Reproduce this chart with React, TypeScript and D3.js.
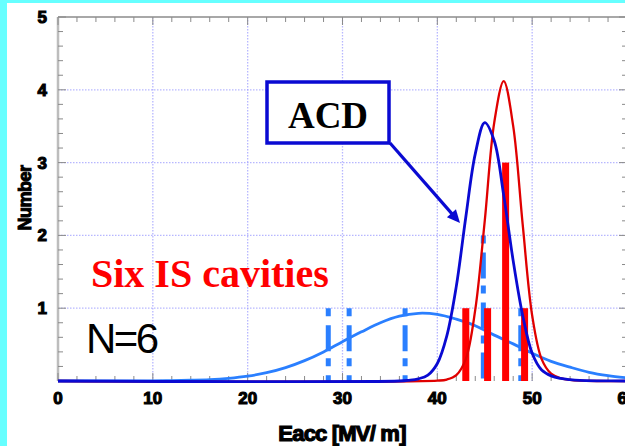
import * as d3 from 'd3';
import React, { useRef, useEffect } from 'react';

const W = 625, H = 446;

// histogram of the six IS cavities (red) and the ACD cavities (dashed blue)
const isEacc = [43.0, 45.3, 47.2, 49.2];
const isCount = [1, 1, 3, 1];
const acdEacc = [28.5, 30.7, 36.6, 44.85, 48.8];
const acdCount = [1, 1, 1, 2, 1];

// fitted curves
const acdFitX = [0, 36, 37, 38, 39, 40, 41, 42, 43, 44, 45, 46, 47, 48, 49, 50, 51, 52, 53, 54, 55, 57, 60];
const acdFitY = [0, 0, 0.01, 0.03, 0.08, 0.24, 0.62, 1.3, 2.25, 3.12, 3.55, 3.3, 2.55, 1.65, 0.9, 0.38, 0.15, 0.07, 0.035, 0.018, 0.008, 0.002, 0];
const isFitX = [0, 40, 41, 42, 43, 44, 45, 46, 47, 48, 49, 50, 51, 52, 53, 54, 55, 57, 60];
const isFitY = [0, 0.005, 0.02, 0.08, 0.3, 0.98, 2.2, 3.55, 4.12, 3.5, 2.15, 0.9, 0.3, 0.1, 0.04, 0.015, 0.005, 0, 0];
const wideFitX = [0, 10, 12, 14, 16, 18, 20, 22, 24, 26, 28, 30, 32, 34, 36, 38, 40, 42, 44, 46, 48, 50, 52, 54, 56, 58, 60];
const wideFitY = [0, 0.002, 0.005, 0.01, 0.018, 0.036, 0.066, 0.114, 0.184, 0.28, 0.4, 0.54, 0.675, 0.8, 0.89, 0.93, 0.915, 0.85, 0.76, 0.63, 0.51, 0.38, 0.27, 0.19, 0.12, 0.074, 0.043];

const xTicks = [0, 10, 20, 30, 40, 50, 60];
const yTicks = [1, 2, 3, 4, 5];
const xMinor = [0, 2, 4, 6, 8, 10, 12, 14, 16, 18, 20, 22, 24, 26, 28, 30, 32, 34, 36, 38, 40, 42, 44, 46, 48, 50, 52, 54, 56, 58, 60];
const yMinor = [0, 0.2, 0.4, 0.6, 0.8, 1, 1.2, 1.4, 1.6, 1.8, 2, 2.2, 2.4, 2.6, 2.8, 3, 3.2, 3.4, 3.6, 3.8, 4, 4.2, 4.4, 4.6, 4.8, 5];

const CYAN = '#66ffff';
const LIGHTBLUE = '#2a7fff';
const DARKBLUE = '#0a0ad2';
const RED = '#ff0000';

export default function App() {
    const ref = useRef<SVGSVGElement>(null);

    useEffect(() => {
        const svg = d3.select(ref.current);
        svg.selectAll('*').remove();

        var x = d3.scaleLinear().domain([0, 60]).range([58, 627]);
        var y = d3.scaleLinear().domain([0, 5]).range([381, 17]);

        // background + cyan frame strips
        svg.append('rect').attr('width', W).attr('height', H).attr('fill', '#fff');
        svg.append('rect').attr('width', 7).attr('height', H).attr('fill', CYAN);
        svg.append('rect').attr('width', W).attr('height', 3).attr('fill', CYAN);

        var g = svg.append('g');

        // dotted grid
        g.selectAll('.gx').data(xTicks.slice(1, -1)).enter().append('line')
            .attr('x1', d => x(d)).attr('x2', d => x(d))
            .attr('y1', y(5)).attr('y2', y(0))
            .attr('stroke', '#9a9aff').attr('stroke-width', 1.3)
            .attr('stroke-dasharray', '1.5,1.5').attr('opacity', 0.7);
        g.selectAll('.gy').data(yTicks.slice(0, -1)).enter().append('line')
            .attr('x1', x(0)).attr('x2', x(60))
            .attr('y1', d => y(d)).attr('y2', d => y(d))
            .attr('stroke', '#9a9aff').attr('stroke-width', 1.3)
            .attr('stroke-dasharray', '1.5,1.5').attr('opacity', 0.7);

        // frame
        g.append('line').attr('x1', x(0)).attr('x2', x(0)).attr('y1', y(5)).attr('y2', y(0))
            .attr('stroke', '#bdbdbd').attr('stroke-width', 2.5);
        g.append('line').attr('x1', x(0)).attr('x2', x(60)).attr('y1', y(5)).attr('y2', y(5))
            .attr('stroke', '#a8a8a8').attr('stroke-width', 2);
        g.append('line').attr('x1', x(60)).attr('x2', x(60)).attr('y1', y(5)).attr('y2', y(0))
            .attr('stroke', '#bdbdbd').attr('stroke-width', 2);

        // minor ticks
        var tickCol = '#8a8a8a';
        g.selectAll('.tb').data(xMinor).enter().append('line')
            .attr('x1', d => x(d)).attr('x2', d => x(d))
            .attr('y1', y(0)).attr('y2', d => y(0) - (d % 10 === 0 ? 8 : 5))
            .attr('stroke', tickCol).attr('stroke-width', 1);
        g.selectAll('.tt').data(xMinor).enter().append('line')
            .attr('x1', d => x(d)).attr('x2', d => x(d))
            .attr('y1', y(5)).attr('y2', d => y(5) + (d % 10 === 0 ? 8 : 5))
            .attr('stroke', tickCol).attr('stroke-width', 1);
        g.selectAll('.tl').data(yMinor).enter().append('line')
            .attr('x1', x(0)).attr('x2', d => x(0) + (Math.abs(d - Math.round(d)) < 1e-6 ? 8 : 5))
            .attr('y1', d => y(d)).attr('y2', d => y(d))
            .attr('stroke', tickCol).attr('stroke-width', 1);
        g.selectAll('.tr').data(yMinor).enter().append('line')
            .attr('x1', x(60)).attr('x2', d => x(60) - (Math.abs(d - Math.round(d)) < 1e-6 ? 8 : 5))
            .attr('y1', d => y(d)).attr('y2', d => y(d))
            .attr('stroke', tickCol).attr('stroke-width', 1);

        // ACD histogram, dashed light-blue bars
        g.selectAll('.acdbar').data(acdEacc).enter().append('line')
            .attr('x1', d => x(d)).attr('x2', d => x(d))
            .attr('y1', (d, i) => y(acdCount[i])).attr('y2', y(0))
            .attr('stroke', LIGHTBLUE).attr('stroke-width', 5)
            .attr('stroke-dasharray', '8,9,26,7');

        var line = (xs: number[], ys: number[]) => d3.line<number>()
            .curve(d3.curveCatmullRom.alpha(0.5))
            .x((d, i) => x(xs[i]))
            .y(d => y(d))(ys);

        // wide fit
        g.append('path').attr('d', line(wideFitX, wideFitY))
            .attr('fill', 'none').attr('stroke', LIGHTBLUE).attr('stroke-width', 2.8);

        // IS histogram, red bars
        g.selectAll('.isbar').data(isEacc).enter().append('rect')
            .attr('x', d => x(d) - 3.5).attr('width', 7)
            .attr('y', (d, i) => y(isCount[i]))
            .attr('height', (d, i) => y(0) - y(isCount[i]))
            .attr('fill', RED);

        g.append('path').attr('d', line(isFitX, isFitY))
            .attr('fill', 'none').attr('stroke', '#e00000').attr('stroke-width', 2.3);
        g.append('path').attr('d', line(acdFitX, acdFitY))
            .attr('fill', 'none').attr('stroke', DARKBLUE).attr('stroke-width', 2.8);

        // tick labels
        var lab = (sel: any, sw: number) => sel
            .attr('font-family', 'Liberation Sans, Arial, sans-serif')
            .attr('font-weight', 'bold')
            .attr('fill', '#000').attr('stroke', '#000').attr('stroke-width', sw);
        g.selectAll('.xl').data(xTicks).enter().append('text')
            .attr('x', d => x(d)).attr('y', 404)
            .attr('text-anchor', 'middle').attr('font-size', 17)
            .text(d => d).call(lab, 1.1);
        g.selectAll('.yl').data(yTicks).enter().append('text')
            .attr('x', 47).attr('y', d => y(d) + 6)
            .attr('text-anchor', 'end').attr('font-size', 17)
            .text(d => d).call(lab, 1.1);

        g.append('text').attr('x', 342).attr('y', 441)
            .attr('text-anchor', 'middle').attr('font-size', 22)
            .attr('letter-spacing', -0.8)
            .text('Eacc [MV/ m]').call(lab, 1.2);
        g.append('text')
            .attr('transform', 'translate(31,198) rotate(-90)')
            .attr('text-anchor', 'middle').attr('font-size', 18)
            .attr('letter-spacing', -0.5)
            .text('Number').call(lab, 1);

        // annotations
        g.append('text').attr('x', 91).attr('y', 287)
            .attr('font-family', 'Liberation Serif, Times New Roman, serif')
            .attr('font-weight', 'bold').attr('font-size', 40)
            .attr('fill', RED).text('Six IS cavities');
        g.append('text').attr('x', 86).attr('y', 353)
            .attr('font-family', 'Liberation Sans, Arial, sans-serif')
            .attr('font-size', 42).attr('letter-spacing', -2.5)
            .attr('fill', '#000').text('N=6');

        g.append('rect').attr('x', 267).attr('y', 82).attr('width', 122).attr('height', 61)
            .attr('fill', '#fff').attr('stroke', DARKBLUE).attr('stroke-width', 3.5);
        g.append('text').attr('x', 328).attr('y', 128)
            .attr('text-anchor', 'middle')
            .attr('font-family', 'Liberation Serif, Times New Roman, serif')
            .attr('font-weight', 'bold').attr('font-size', 37)
            .attr('fill', '#000').text('ACD');

        // arrow from the box to the ACD curve
        var ax0 = 390, ay0 = 143, ax1 = 460, ay1 = 223;
        var ang = Math.atan2(ay1 - ay0, ax1 - ax0);
        var hl = 13, hw = 6;
        g.append('line').attr('x1', ax0).attr('y1', ay0)
            .attr('x2', ax1 - Math.cos(ang) * hl * 0.8).attr('y2', ay1 - Math.sin(ang) * hl * 0.8)
            .attr('stroke', DARKBLUE).attr('stroke-width', 3.2);
        var bx = ax1 - Math.cos(ang) * hl, by = ay1 - Math.sin(ang) * hl;
        g.append('path')
            .attr('d', 'M' + ax1 + ',' + ay1
                + 'L' + (bx - Math.sin(ang) * hw) + ',' + (by + Math.cos(ang) * hw)
                + 'L' + (bx + Math.sin(ang) * hw) + ',' + (by - Math.cos(ang) * hw) + 'Z')
            .attr('fill', DARKBLUE);
    }, []);

    return (
        <svg ref={ref} width={W} height={H}
            style={{ position: 'absolute', left: 0, top: 0, display: 'block' }} />
    );
}
